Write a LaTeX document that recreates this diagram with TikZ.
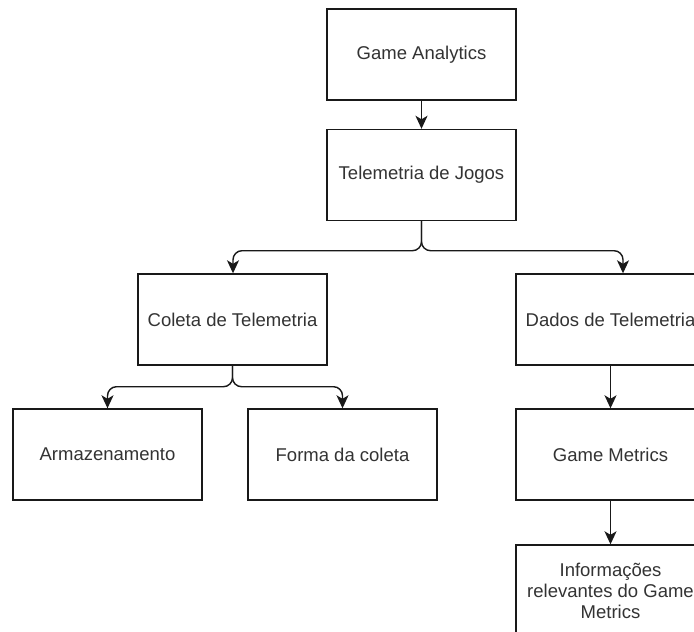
\documentclass[tikz,border=0pt]{standalone}
\usepackage{fontspec}
\setmainfont{Liberation Sans}
\usetikzlibrary{arrows.meta}
\begin{document}
\begin{tikzpicture}[x=1bp,y=-1bp,
  box/.style={draw=black!90, line width=1.4bp, minimum width=189bp, minimum height=91bp,
    inner sep=2bp, align=center, text=black!80,
    font=\fontsize{18.5bp}{21bp}\selectfont},
  link/.style={draw=black!90, line width=1.4bp, rounded corners=9bp,
    -{Stealth[length=13bp,width=12bp,inset=3.5bp]}}]
\useasboundingbox (0,0) rectangle (694,632);
\clip (0,0) rectangle (694,632);
\fill[white] (0,0) rectangle (694,632);

% hierarchy boxes
\node[box] (GA) at (421.5,54.5) {Game Analytics};
\node[box] (TJ) at (421.5,175) {Telemetria de Jogos};
\node[box] (CT) at (232.5,319.5) {Coleta de Telemetria};
\node[box] (DT) at (610.5,319.5) {Dados de Telemetria};
\node[box] (AR) at (107.5,454.5) {Armazenamento};
\node[box] (FC) at (342.5,454.5) {Forma da coleta};
\node[box] (GM) at (610.5,454.5) {Game Metrics};
\node[box] (IR) at (610.5,590.5) {Informações\\relevantes do Game\\Metrics};

% connectors
\draw[link] (GA) -- (TJ);
\draw[link] (TJ.south) -- ++(0,29.5) -| ([xshift=0.5bp]CT.north);
\draw[link] (TJ.south) -- ++(0,29.5) -| ([xshift=12.5bp]DT.north);
\draw[link] (CT.south) -- ++(0,21) -| (AR.north);
\draw[link] (CT.south) -- ++(0,21) -| (FC.north);
\draw[link] (DT) -- (GM);
\draw[link] (GM) -- (IR);
\end{tikzpicture}
\end{document}
